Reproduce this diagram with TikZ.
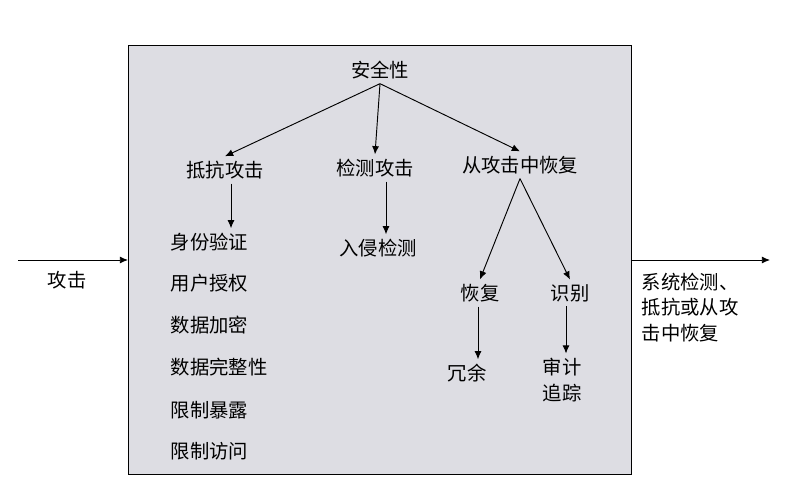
\documentclass[tikz,border=0pt]{standalone}
\usepackage{fontspec}
\setmainfont{Noto Sans CJK SC}
\usetikzlibrary{arrows.meta,positioning}
\definecolor{boxgray}{HTML}{DDDDE3}
\tikzset{
  txt/.style={font=\fontsize{16.5}{22}\selectfont, inner sep=1pt, outer sep=3pt},
  arr/.style={-{Latex[length=7pt,width=6pt]}, thick},
}
\begin{document}
\begin{tikzpicture}[x=0.03cm,y=-0.03cm]
  \useasboundingbox (0,0) rectangle (791,500);
  \draw[fill=boxgray] (128,45) rectangle (631,474);
  \node[txt] (sec) at (380,70) {安全性};
  \node[txt] (res) at (225,170) {抵抗攻击};
  \node[txt] (det) at (375,168) {检测攻击};
  \node[txt] (rec) at (520,165) {从攻击中恢复};
  \draw[arr] (sec.south) -- (res.north);
  \draw[arr] (sec.south) -- (det.north);
  \draw[arr] (sec.south) -- (rec.north);
  \node[txt,anchor=west] (l1) at (166,242) {身份验证};
  \node[txt,anchor=west] (l2) at (166,283) {用户授权};
  \node[txt,anchor=west] (l3) at (166,325) {数据加密};
  \node[txt,anchor=west] (l4) at (166,367) {数据完整性};
  \node[txt,anchor=west] (l5) at (166,410) {限制暴露};
  \node[txt,anchor=west] (l6) at (166,451) {限制访问};
  \draw[arr] (res.south -| 231,0) -- (l1.north -| 231,0);
  \node[txt] (ids) at (378,248) {入侵检测};
  \draw[arr] (det.south -| 386,0) -- (ids.north -| 386,0);
  \node[txt] (rcv) at (480,293) {恢复};
  \node[txt] (idf) at (570,293) {识别};
  \draw[arr] (rec.south) -- (rcv.north);
  \draw[arr] (rec.south) -- (idf.north);
  \node[txt] (red) at (467,373) {冗余};
  \node[txt,align=center] (aud) at (562,380) {审计\\追踪};
  \draw[arr] (rcv.south -| 478,0) -- (red.north -| 478,0);
  \draw[arr] (idf.south -| 566,0) -- (aud.north -| 566,0);
  % input and output
  \coordinate (in) at (18,260);
  \coordinate (out) at (770,260);
  \draw[arr] (in) -- (128,260);
  \node[txt] (atk) at (67,280) {攻击};
  \draw[arr] (631,260) -- (out);
  \node[txt,anchor=north west,align=left] (outtxt) at (637,268) {系统检测、\\抵抗或从攻\\击中恢复};
\end{tikzpicture}
\end{document}
